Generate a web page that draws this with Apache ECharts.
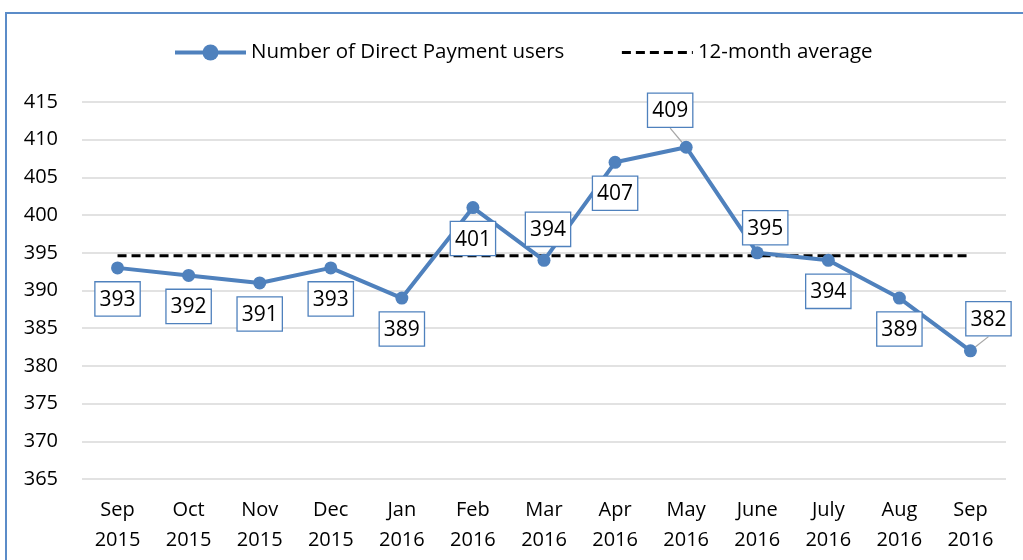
<!DOCTYPE html>
<html>
<head>
<meta charset="utf-8">
<script src="https://cdn.jsdelivr.net/npm/echarts@6/dist/echarts.min.js"></script>
<style>
  html, body { margin: 0; padding: 0; background: #fff; }
  #chart { width: 1023px; height: 560px; }
</style>
</head>
<body>
<div id="chart"></div>
<script>
const months = ['Sep\n2015', 'Oct\n2015', 'Nov\n2015', 'Dec\n2015', 'Jan\n2016', 'Feb\n2016', 'Mar\n2016',
  'Apr\n2016', 'May\n2016', 'June\n2016', 'July\n2016', 'Aug\n2016', 'Sep\n2016'];
const users = [393, 392, 391, 393, 389, 401, 394, 407, 409, 395, 394, 389, 382];
const averageValue = 394.6;
const averageLine = months.map(() => averageValue);
// where each data label sits, relative to its point
const labelSide = ['bottom', 'bottom', 'bottom', 'bottom', 'bottom', 'bottom', 'top',
  'bottom', 'top', 'top', 'bottom', 'bottom', 'top'];
const labelShift = { 6: [4, 0], 8: [-16, -6], 9: [8, 6], 12: [18, -1] };
const leaderLines = [8, 12];

const font = '"Open Sans", sans-serif';
const blue = '#4f81bd';

const chart = echarts.init(document.getElementById('chart'));

const userData = users.map((v, i) => {
  const item = { value: v, label: { position: labelSide[i] } };
  if (leaderLines.includes(i)) {
    item.labelLine = { show: true, lineStyle: { color: '#a6a6a6', width: 1.2 } };
  }
  return item;
});

chart.setOption({
  animation: false,
  textStyle: { fontFamily: font },
  graphic: [{
    type: 'rect',
    shape: { x: 6, y: 13, width: 1200, height: 700 },
    style: { fill: 'none', stroke: '#5b8cc8', lineWidth: 2 },
    silent: true
  }],
  legend: {
    left: 173,
    top: 42,
    padding: 0,
    itemWidth: 71,
    itemHeight: 20,
    itemGap: 56,
    textStyle: { fontFamily: font, fontSize: 20.5, color: '#000' },
    data: [
      { name: 'Number of Direct Payment users', lineStyle: { width: 4 } },
      { name: '12-month average', itemStyle: { opacity: 0 }, lineStyle: { width: 3 } }
    ]
  },
  grid: { left: 82, right: 17, top: 102, bottom: 81 },
  xAxis: {
    type: 'category',
    data: months,
    axisLine: { show: false },
    axisTick: { show: false },
    axisLabel: { fontFamily: font, fontSize: 20, color: '#000', lineHeight: 30, margin: 16, interval: 0 }
  },
  yAxis: {
    type: 'value',
    min: 365,
    max: 415,
    interval: 5,
    axisLine: { show: false },
    axisTick: { show: false },
    axisLabel: { fontFamily: font, fontSize: 20, color: '#000', margin: 24 },
    splitLine: { lineStyle: { color: '#d9d9d9', width: 1.5 } }
  },
  series: [{
    name: 'Number of Direct Payment users',
    type: 'line',
    z: 3,
    data: userData,
    symbol: 'circle',
    symbolSize: 13,
    itemStyle: { color: blue },
    lineStyle: { color: blue, width: 4 },
    label: {
      show: true,
      distance: 8,
      fontFamily: font,
      fontSize: 21,
      color: '#000',
      backgroundColor: '#fff',
      borderColor: blue,
      borderWidth: 1.3,
      padding: [7, 4, 5, 4]
    },
    labelLine: { show: false },
    labelLayout: function (p) {
      const s = labelShift[p.dataIndex];
      if (!s) return {};
      return { dx: s[0], dy: s[1] };
    }
  }, {
    name: '12-month average',
    type: 'line',
    z: 2,
    data: averageLine,
    symbol: 'none',
    lineStyle: { color: '#000', width: 3, type: [9, 5] },
    itemStyle: { color: '#000' }
  }]
});
</script>
</body>
</html>
